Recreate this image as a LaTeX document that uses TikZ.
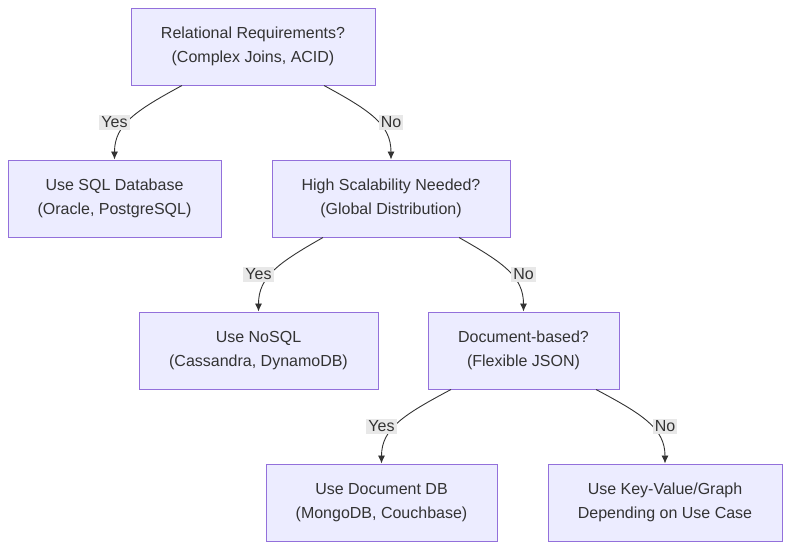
\documentclass[tikz,border=0pt]{standalone}
\usepackage{fontspec}
\setmainfont{Liberation Sans}
\usetikzlibrary{arrows.meta}
\definecolor{boxfill}{HTML}{ECECFF}
\definecolor{boxline}{HTML}{9370DB}
\definecolor{ink}{HTML}{333333}
\definecolor{lblgray}{HTML}{E8E8E8}

\begin{document}
\begin{tikzpicture}[x=1pt,y=-1pt,
  box/.style={draw=boxline, line width=1pt, fill=boxfill, text=ink, align=center,
    minimum height=77pt, inner sep=0pt, font=\fontsize{16}{24}\selectfont},
  flow/.style={draw=ink, line width=0.9pt, -{Latex[length=8pt,width=7pt]}},
  lbl/.style={fill=lblgray, text=ink, inner sep=2pt, font=\fontsize{16}{19}\selectfont}]
\useasboundingbox (0,0) rectangle (790,550);
\node [box, minimum width=244pt] (rel) at (253,46.5) {Relational Requirements?\\(Complex Joins, ACID)};
\node [box, minimum width=213pt] (sql) at (114.5,198.5) {Use SQL Database\\(Oracle, PostgreSQL)};
\node [box, minimum width=238pt] (scal) at (391,198.5) {High Scalability Needed?\\(Global Distribution)};
\node [box, minimum width=239pt] (nosql) at (258.5,350.5) {Use NoSQL\\(Cassandra, DynamoDB)};
\node [box, minimum width=191pt] (docq) at (523.5,350.5) {Document-based?\\(Flexible JSON)};
\node [box, minimum width=231pt] (docdb) at (381.5,502.5) {Use Document DB\\(MongoDB, Couchbase)};
\node [box, minimum width=234pt] (kv) at (665,502.5) {Use Key-Value/Graph\\Depending on Use Case};

% yes / no branches
\draw [flow] ([xshift=-71pt]rel.south) .. controls +(-46,25) and +(0,-35) .. (sql.north);
\draw [flow] ([xshift=71pt]rel.south) .. controls +(46,25) and +(0,-35) .. (scal.north);
\draw [flow] ([xshift=-68pt]scal.south) .. controls +(-44,25) and +(0,-35) .. (nosql.north);
\draw [flow] ([xshift=68pt]scal.south) .. controls +(44,25) and +(0,-35) .. (docq.north);
\draw [flow] ([xshift=-72.5pt]docq.south) .. controls +(-47,25) and +(0,-35) .. (docdb.north);
\draw [flow] ([xshift=72.5pt]docq.south) .. controls +(47,25) and +(0,-35) .. (kv.north);

\node [lbl] (yes1) at ([yshift=37pt]sql.north) {Yes};
\node [lbl] (no1) at ([yshift=37pt]scal.north) {No};
\node [lbl] (yes2) at ([yshift=37pt]nosql.north) {Yes};
\node [lbl] (no2) at ([yshift=37pt]docq.north) {No};
\node [lbl] (yes3) at ([yshift=37pt]docdb.north) {Yes};
\node [lbl] (no3) at ([yshift=37pt]kv.north) {No};

\end{tikzpicture}
\end{document}
